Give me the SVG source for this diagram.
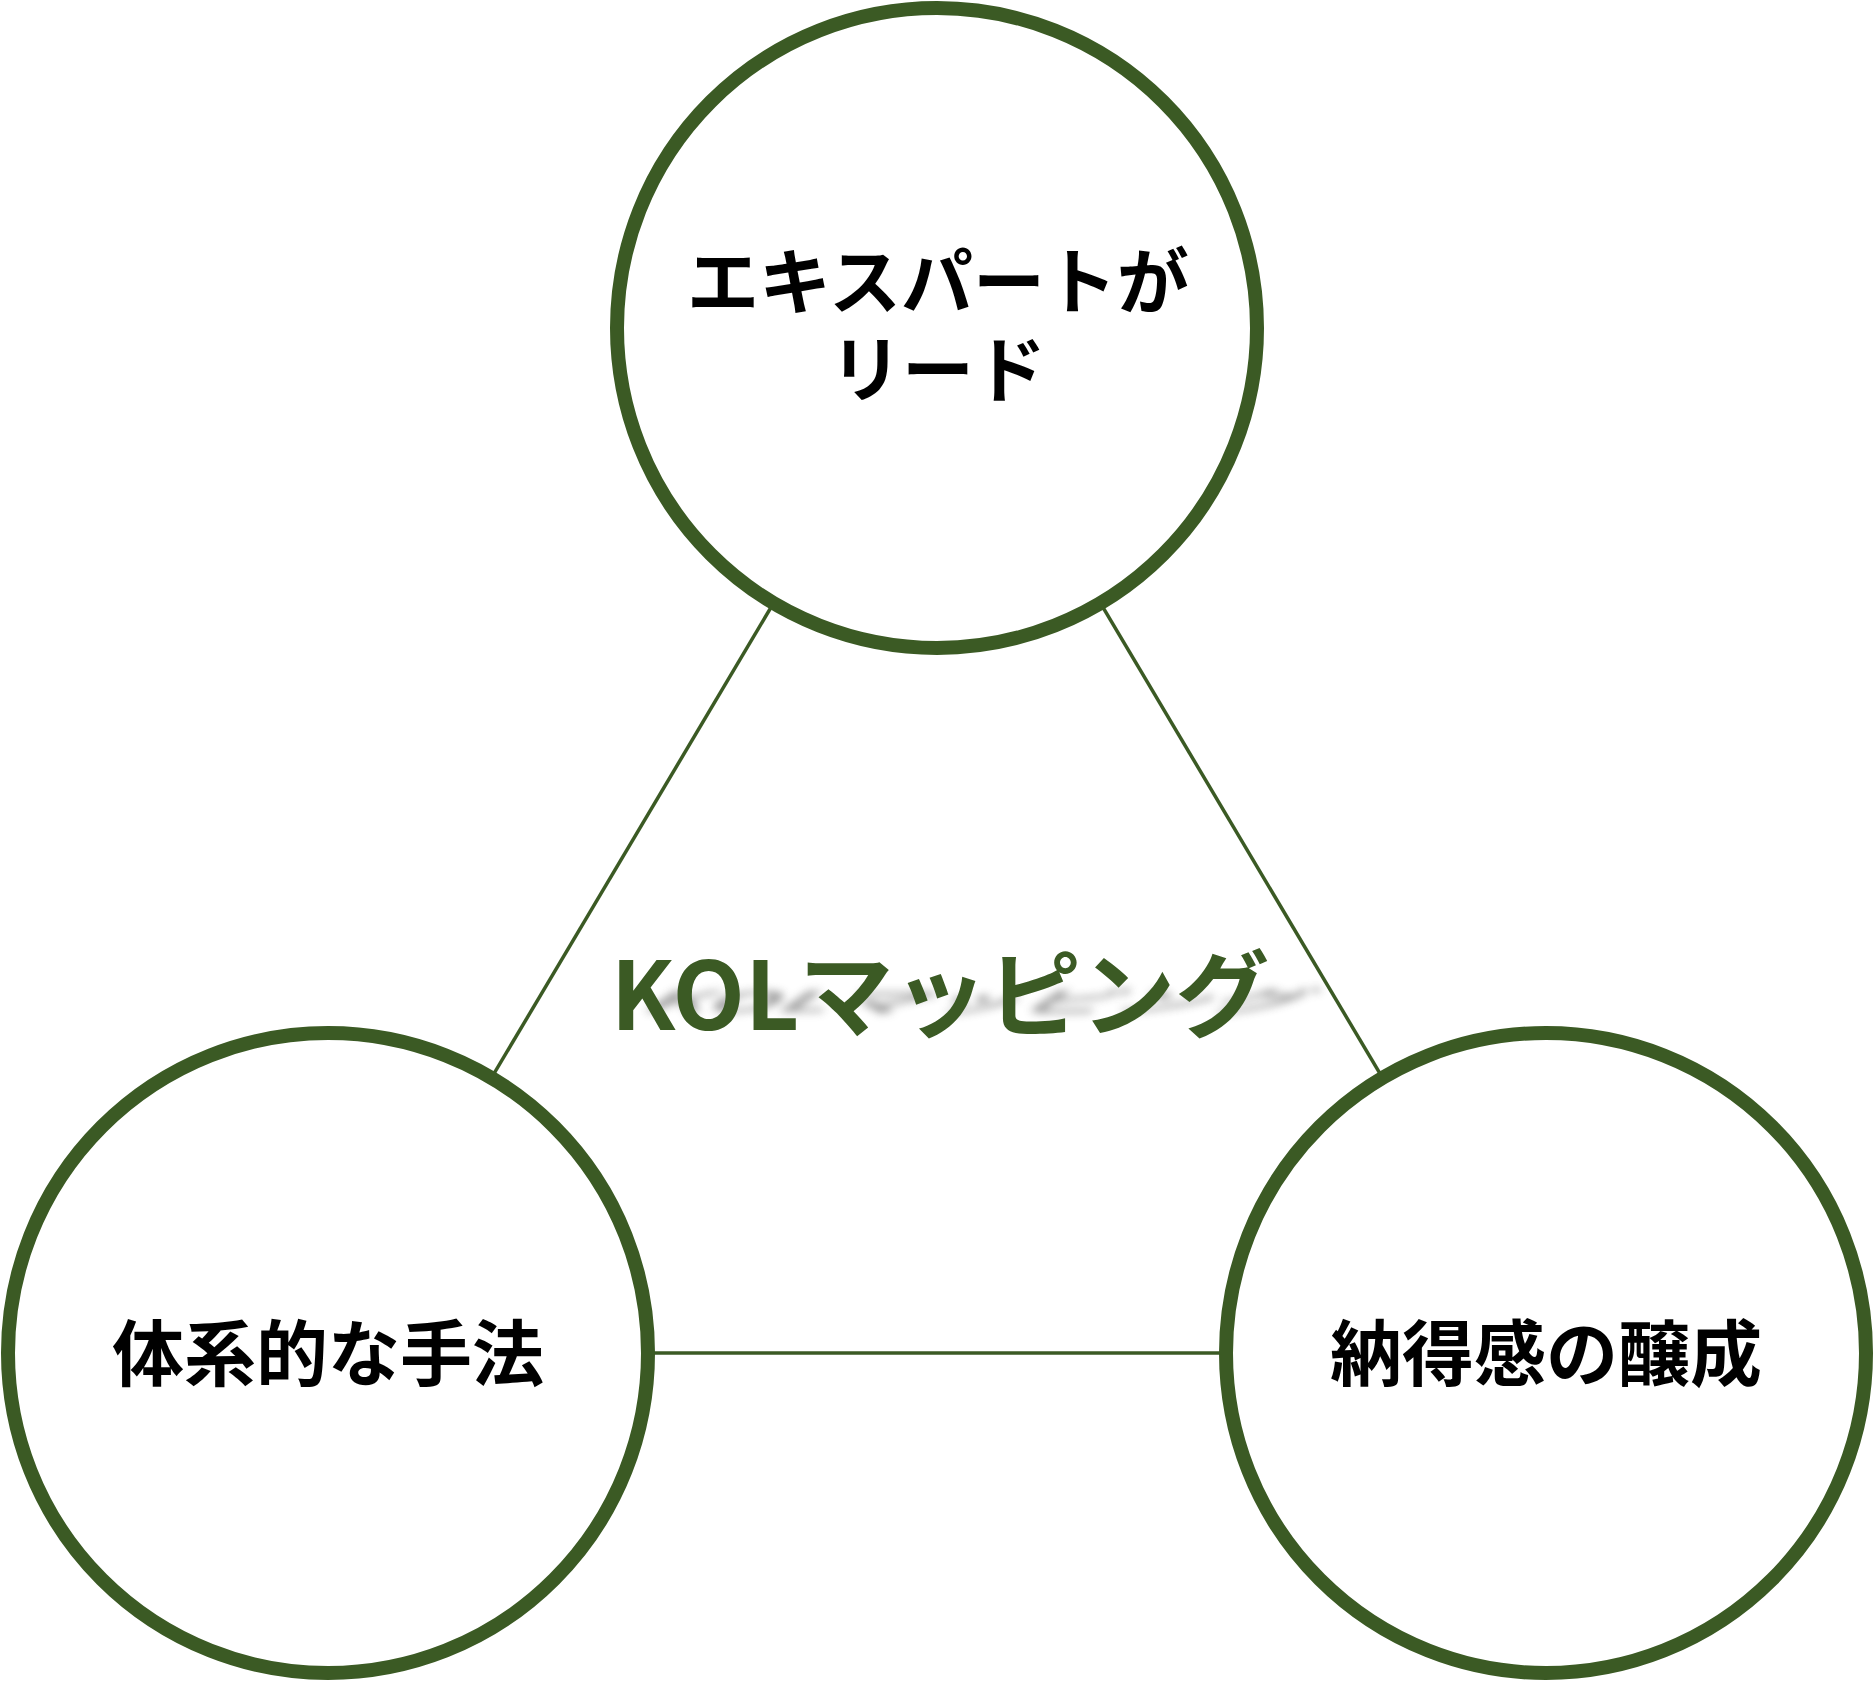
<svg xmlns="http://www.w3.org/2000/svg" width="1875" height="1682" viewBox="0 0 1875 1682">
  <defs>
    <style>
      .node { fill: #ffffff; stroke: #3b5a24; stroke-width: 14; }
      .link { stroke: #3b5a24; stroke-width: 3.5; fill: none; }
      .label { font-family: "Noto Sans CJK JP", "Noto Sans", sans-serif; font-weight: 700; font-size: 72px; fill: #000000; text-anchor: middle; dominant-baseline: central; }
      .title { font-family: "Noto Sans CJK JP", "Noto Sans", sans-serif; font-weight: 700; font-size: 94px; text-anchor: middle; }
    </style>
    <filter id="blur" x="-20%" y="-100%" width="140%" height="300%">
      <feGaussianBlur stdDeviation="4"/>
    </filter>
  </defs>
  <rect width="1875" height="1682" fill="#ffffff"/>
  <g id="connectors">
    <line class="link" x1="937" y1="328" x2="328" y2="1353"/>
    <line class="link" x1="937" y1="328" x2="1546" y2="1353"/>
    <line class="link" x1="328" y1="1353" x2="1546" y2="1353"/>
  </g>
  <g id="node-expert">
    <circle class="node" cx="937" cy="328" r="320"/>
    <text class="label"><tspan x="938" y="276">エキスパートが</tspan><tspan x="938" y="364">リード</tspan></text>
  </g>
  <g id="node-method">
    <circle class="node" cx="328" cy="1353" r="320"/>
    <text class="label" x="328" y="1348">体系的な手法</text>
  </g>
  <g id="node-consensus">
    <circle class="node" cx="1546" cy="1353" r="320"/>
    <text class="label" x="1546" y="1348">納得感の醸成</text>
  </g>
  <g id="title">
    <g filter="url(#blur)" opacity="0.6">
      <text class="title" fill="#666666" transform="translate(965,1012) skewX(-55) scale(1,0.3)" x="0" y="0">KOLマッピング</text>
    </g>
    <text class="title" fill="#3b5a24" x="940" y="1030">KOLマッピング</text>
  </g>
</svg>
